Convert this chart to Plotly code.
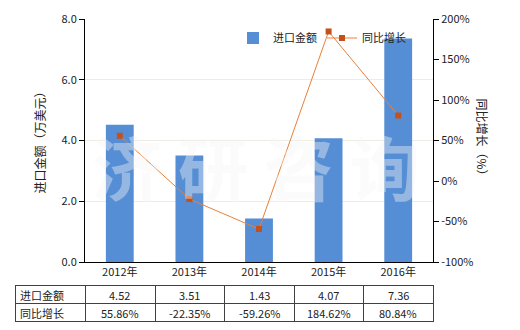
import plotly.graph_objects as go

years = ["2012年", "2013年", "2014年", "2015年", "2016年"]
import_values = [4.52, 3.51, 1.43, 4.07, 7.36]
growth_values = [55.86, -22.35, -59.26, 184.62, 80.84]
row_names = ["进口金额", "同比增长"]
import_labels = ["4.52", "3.51", "1.43", "4.07", "7.36"]
growth_labels = ["55.86%", "-22.35%", "-59.26%", "184.62%", "80.84%"]
left_ticks = [0, 2, 4, 6, 8]
right_ticks = [-100, -50, 0, 50, 100, 150, 200]

W, H = 520, 330
FONT = "Noto Sans CJK SC"
x0, x1 = 85, 433
y_top, y_bot = 19, 262
tbl_left, tbl_top, row_h = 15, 285, 18
GRID = "#404040"

fig = go.Figure()
fig.add_trace(go.Bar(
    x=years, y=import_values, name="进口金额",
    marker=dict(color="#558ED5", line=dict(width=0)),
    width=0.4, yaxis="y",
))
fig.add_trace(go.Scatter(
    x=years, y=growth_values, name="同比增长", mode="lines+markers",
    line=dict(color="#E8803A", width=1),
    marker=dict(symbol="square", size=6, color="#C5501A"),
    yaxis="y2",
))

# table built from shapes + annotations
col_w = [x0 - tbl_left] + [(x1 - x0) / len(years)] * len(years)
xs = [tbl_left]
for w in col_w:
    xs.append(xs[-1] + w)
tbl_bot = tbl_top + 2 * row_h
shapes = []
for xv in xs:
    xp = round(xv)
    shapes.append(dict(type="rect", xref="paper", yref="paper", layer="above",
                       x0=xp / W, x1=(xp + 1) / W,
                       y0=1 - tbl_top / H, y1=1 - (tbl_bot + 1) / H,
                       fillcolor=GRID, line=dict(width=0)))
for r in range(3):
    yv = tbl_top + r * row_h
    shapes.append(dict(type="rect", xref="paper", yref="paper", layer="above",
                       x0=tbl_left / W, x1=(round(x1) + 1) / W,
                       y0=1 - yv / H, y1=1 - (yv + 1) / H,
                       fillcolor=GRID, line=dict(width=0)))

annotations = []
rows = [import_labels, growth_labels]
for r, (name, labels) in enumerate(zip(row_names, rows)):
    yc = 1 - (tbl_top + r * row_h + row_h / 2 + 0.5) / H
    annotations.append(dict(text=name, xref="paper", yref="paper", x=(tbl_left + 3) / W, y=yc,
                            xanchor="left", yanchor="middle", showarrow=False,
                            font=dict(size=11, family=FONT, color="#222")))
    for i, lab in enumerate(labels):
        xc = (xs[i + 1] + xs[i + 2]) / 2
        annotations.append(dict(text=lab, xref="paper", yref="paper", x=xc / W, y=yc,
                                xanchor="center", yanchor="middle", showarrow=False,
                                font=dict(size=11, family=FONT, color="#222")))

annotations.append(dict(text="进口金额（万美元）", xref="paper", yref="paper",
                        x=28 / W, y=1 - 140 / H, textangle=-90, showarrow=False,
                        font=dict(size=12, family=FONT)))
annotations.append(dict(text="同比增长（%）", xref="paper", yref="paper",
                        x=493 / W, y=1 - 140 / H, textangle=90, showarrow=False,
                        font=dict(size=12, family=FONT)))
annotations.append(dict(text="<b>济 研 咨 询</b>", xref="paper", yref="paper",
                        x=256 / W, y=1 - 165 / H, showarrow=False,
                        font=dict(size=70, family=FONT, color="rgba(245,245,245,0.4)")))

fig.update_layout(
    width=W, height=H,
    margin=dict(l=0, r=0, t=0, b=0, autoexpand=False),
    paper_bgcolor="white", plot_bgcolor="white",
    font=dict(family=FONT, size=11, color="#222"),
    shapes=shapes, annotations=annotations,
    xaxis=dict(domain=[x0 / W, x1 / W], showline=True, linecolor="black", linewidth=1,
               ticks="", showgrid=False, tickfont=dict(size=11), automargin=False),
    yaxis=dict(domain=[1 - y_bot / H, 1 - y_top / H], range=[0, 8], tickvals=left_ticks,
               ticktext=[f"{v:.1f}" for v in left_ticks], automargin=False,
               showline=True, linecolor="black", linewidth=1, ticks="outside", ticklen=5,
               tickcolor="black", showgrid=True, gridcolor="#EDEDE4", zeroline=False),
    yaxis2=dict(overlaying="y", side="right", range=[-100, 200], tickvals=right_ticks,
                ticktext=[f"{v}%" for v in right_ticks], automargin=False,
                showline=True, linecolor="black", linewidth=1, ticks="outside", ticklen=5,
                tickcolor="black", showgrid=False, zeroline=False),
    legend=dict(orientation="h", x=233 / W, y=1 - 38 / H, xanchor="left", yanchor="middle",
                font=dict(size=11), bgcolor="rgba(0,0,0,0)", traceorder="normal",
                itemwidth=30),
    showlegend=True,
)

fig.write_html("out.html")
